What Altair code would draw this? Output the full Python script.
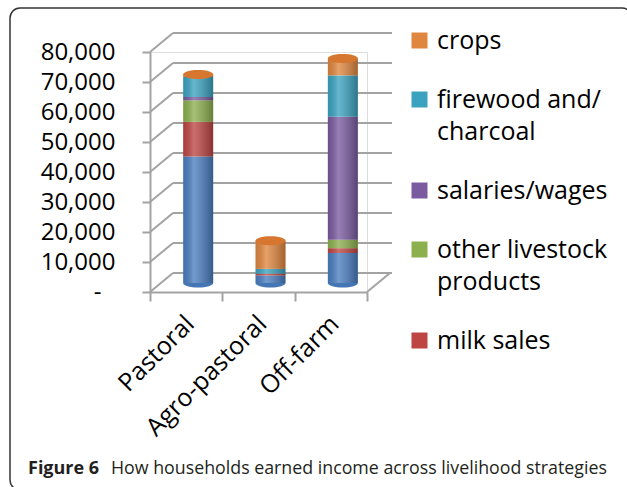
import altair as alt
import pandas as pd

# ---------------- data ----------------
categories = ["Pastoral", "Agro-pastoral", "Off-farm"]
series = ["livestock sales", "milk sales", "other livestock products",
          "salaries/wages", "firewood and/charcoal", "crops"]
pastoral = [42200, 11500, 7200, 1100, 6700, 800]
agro_pastoral = [2500, 600, 0, 0, 1600, 9400]
off_farm = [10000, 1600, 2800, 41000, 13800, 5600]
colors = ["#4A7EC0", "#BD4643", "#8DB04F", "#7A5BA0", "#3BA3C0", "#E0873F"]
legend_order = ["crops", "firewood and/charcoal", "salaries/wages",
                "other livestock products", "milk sales"]
y_ticks = [0, 10000, 20000, 30000, 40000, 50000, 60000, 70000, 80000]
caption_bold = "Figure 6"
caption_text = "How households earned income across livelihood strategies"

rows = []
for cat, vals in zip(categories, [pastoral, agro_pastoral, off_farm]):
    for i, (s, v) in enumerate(zip(series, vals)):
        rows.append({"category": cat, "series": s, "value": v, "order": i})
df = pd.DataFrame(rows)
totals = df.groupby("category", sort=False)["value"].sum().reset_index()
grid_df = pd.DataFrame({"value": y_ticks})
one = pd.DataFrame({"value": [0]})
bottom_df = pd.DataFrame({"category": categories, "value": [0, 0, 0]})

W, H = 217, 240
DX, DY = 23, -19          # depth offset of back wall
BX, BY = 12, -9           # bar offset (mid depth)
GRID = "#a3a3a3"
FONT = "Open Sans"

yscale = alt.Scale(domain=[0, 80000], nice=False)
xscale = alt.Scale(domain=categories, paddingInner=0, paddingOuter=0)

x_axis = alt.Axis(title=None, labelAngle=-45, labelAlign="right", labelBaseline="top",
                  labelFontSize=25, labelFont=FONT, labelColor="black", labelLineHeight=25,
                  tickBand="extent", tickSize=9, tickWidth=2, tickColor=GRID,
                  domainColor=GRID, domainWidth=2, labelPadding=10, labelOffset=-5)
y_axis = alt.Axis(title=None, values=y_ticks, grid=False,
                  labelExpr="datum.value == 0 ? '-' : format(datum.value, ',')",
                  labelFontSize=24, labelFont=FONT, labelColor="black", labelLineHeight=24,
                  tickSize=8, tickWidth=2, tickColor=GRID, domainColor=GRID,
                  domainWidth=2,
                  labelPadding={"condition": {"test": "datum.value == 0", "value": 41},
                                "value": 27})

Y = lambda **kw: alt.Y("value:Q", scale=yscale, axis=y_axis, **kw)
X = alt.X("category:N", scale=xscale, axis=x_axis, sort=categories)

# back wall gridlines
back_grid = alt.Chart(grid_df).mark_rule(color=GRID, strokeWidth=2, yOffset=DY, y2Offset=DY).encode(
    y=Y(), x=alt.value(DX), x2=alt.value(W + DX + 2),
)
# side wall connectors (front axis tick -> back wall)
connectors = alt.Chart(grid_df).mark_rule(color=GRID, strokeWidth=2, y2Offset=DY).encode(
    y=Y(), y2="value:Q", x=alt.value(0), x2=alt.value(DX),
)
# right floor edge
floor_right = alt.Chart(one).mark_rule(color=GRID, strokeWidth=2, y2Offset=DY).encode(
    y=Y(), y2="value:Q", x=alt.value(W), x2=alt.value(W + DX),
)

# bottom of cylinders
bottoms = alt.Chart(bottom_df).mark_point(
    shape="M -1 0 A 1 0.3 0 0 0 1 0 Z", size=900, filled=True, opacity=1,
    color="#4476B4", xOffset=BX, yOffset=BY, strokeWidth=0,
).encode(x=X, y=Y())

bars = alt.Chart(df).mark_bar(size=30, xOffset=BX, yOffset=BY, y2Offset=BY).encode(
    x=X,
    y=Y(stack="zero"),
    color=alt.Color("series:N", scale=alt.Scale(domain=series, range=colors),
                    legend=alt.Legend(
                        values=legend_order, title=None, orient="none",
                        legendX=257, legendY=-24,
                        labelFont=FONT, labelFontSize=25, labelColor="black",
                        labelLimit=400, labelOffset=5,
                        symbolType="square", symbolSize=256, symbolStrokeWidth=0,
                        symbolOpacity=1, rowPadding=33,
                        labelExpr="datum.label == 'firewood and/charcoal' ? ['firewood and/', 'charcoal'] : datum.label == 'other livestock products' ? ['other livestock', 'products'] : datum.label",
                    )),
    order=alt.Order("order:Q", sort="ascending"),
)

shade = alt.Chart(totals).mark_bar(
    size=30, xOffset=BX, yOffset=BY, y2Offset=BY,
    color=alt.Gradient(gradient="linear", x1=0, x2=1, y1=0, y2=0, stops=[
        alt.GradientStop(color="rgba(0,0,0,0.10)", offset=0),
        alt.GradientStop(color="rgba(255,255,255,0.22)", offset=0.35),
        alt.GradientStop(color="rgba(0,0,0,0.28)", offset=1),
    ]),
).encode(x=X, y=Y())

caps = alt.Chart(totals).mark_point(
    shape="M -1 0 A 1 0.3 0 1 0 1 0 A 1 0.3 0 1 0 -1 0 Z", size=900, filled=True,
    opacity=1, color="#D7772F", xOffset=BX, yOffset=BY, strokeWidth=0,
).encode(x=X, y=Y())

cap_bold = alt.Chart(one).mark_text(
    text=caption_bold, font=FONT, fontSize=18, fontWeight="bold", align="left",
    baseline="alphabetic", color="#231f20",
).encode(x=alt.value(-122), y=alt.value(422))
cap_reg = alt.Chart(one).mark_text(
    text=caption_text, font=FONT, fontSize=17.8, align="left",
    baseline="alphabetic", color="#231f20",
).encode(x=alt.value(-39), y=alt.value(422))

frame = alt.Chart(one).mark_rect(
    fillOpacity=0, stroke="#333333", strokeWidth=1.5, cornerRadius=10,
).encode(x=alt.value(-140), y=alt.value(-44), x2=alt.value(482), y2=alt.value(438))

chart = alt.layer(
    back_grid, connectors, floor_right, bottoms, bars, shade, caps,
    cap_bold, cap_reg, frame,
).properties(
    width=W, height=H,
    padding={"left": 150, "top": 52, "right": 260, "bottom": 195},
    autosize=alt.AutoSizeParams(type="none"),
).configure_view(strokeWidth=0).configure(
    style={"guide-label": {"lineHeight": 32}}
)

chart.save("out.html", embed_options={"renderer": "svg", "actions": False})
